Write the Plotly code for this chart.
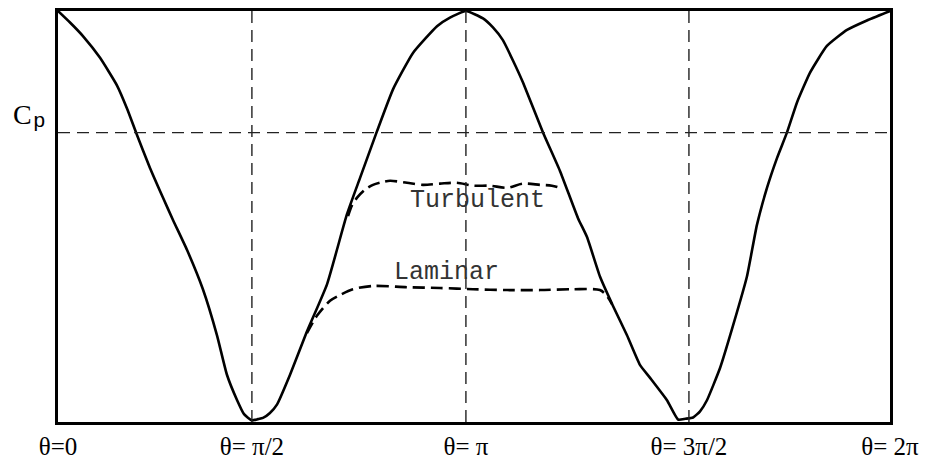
import plotly.graph_objects as go

# pressure coefficient around a cylinder, angle in degrees, Cp normalised 0..1
theta_main = [0, 5.2, 10.8, 18.2, 25.5, 29.9, 33.8, 39.8, 45.4, 49.8, 55.8, 62.7, 68.8, 73.1,
              77.5, 80.5, 83.9, 86.5, 88.7, 91.7, 94.8, 100.4, 107.7, 116.4, 125.0, 130.7,
              138.0, 145.0, 153.6, 164.0, 169.6, 176.5, 183.9, 188.2, 192.5, 196.9, 201.2,
              209.9, 217.2, 225.0, 228.9, 234.5, 240.1, 246.2, 251.8, 256.1, 263.5, 268.3,
              271.5, 274.8, 277.8, 280.8, 286.5, 292.1, 298.1, 302.4, 306.8, 311.1, 315.4,
              319.8, 325.4, 332.7, 341.4, 350.0, 360.0]
cp_main = [1.0, 0.972, 0.939, 0.886, 0.819, 0.762, 0.704, 0.618, 0.546, 0.491, 0.419, 0.323,
           0.211, 0.115, 0.053, 0.019, 0.004, 0.007, 0.010, 0.022, 0.043, 0.115, 0.220, 0.335,
           0.505, 0.594, 0.707, 0.810, 0.898, 0.963, 0.984, 1.0, 0.982, 0.960, 0.929, 0.879,
           0.826, 0.704, 0.611, 0.496, 0.450, 0.354, 0.283, 0.211, 0.139, 0.108, 0.053, 0.006,
           0.008, 0.011, 0.026, 0.053, 0.132, 0.235, 0.354, 0.479, 0.570, 0.642, 0.704, 0.778,
           0.850, 0.915, 0.954, 0.977, 1.0]

theta_laminar = [107.7, 112.1, 117.7, 122.0, 127.6, 136.3, 151.0, 165.3, 179.6, 194.3, 208.6,
                 222.8, 234.5, 237.5, 239.7]
cp_laminar = [0.216, 0.259, 0.295, 0.309, 0.323, 0.331, 0.328, 0.326, 0.323, 0.321, 0.321,
              0.323, 0.321, 0.307, 0.287]

theta_turbulent = [125.5, 127.2, 129.4, 132.8, 136.3, 140.6, 143.7, 151.0, 157.9, 165.3, 172.6,
                   179.6, 186.9, 194.3, 201.2, 208.6, 213.7, 218.1]
cp_turbulent = [0.501, 0.527, 0.546, 0.565, 0.577, 0.584, 0.587, 0.582, 0.577, 0.580, 0.582,
                0.575, 0.575, 0.570, 0.580, 0.577, 0.575, 0.568]

tick_vals = [0, 83.9, 176.5, 273.0, 360]
tick_text = ["θ=0", "θ= π/2", "θ= π", "θ= 3π/2", "θ= 2π"]
cp_ref = 0.704

fig = go.Figure()

# main solid curve
fig.add_trace(go.Scatter(
    x=theta_main, y=cp_main, mode="lines",
    line=dict(color="black", width=2.6, shape="spline", smoothing=0.45),
    cliponaxis=False,
    showlegend=False,
))

# boundary layer separation branches
fig.add_trace(go.Scatter(
    x=theta_turbulent, y=cp_turbulent, mode="lines",
    line=dict(color="black", width=2.6, dash="12px,6px", shape="spline", smoothing=0.8),
    showlegend=False,
))
fig.add_trace(go.Scatter(
    x=theta_laminar, y=cp_laminar, mode="lines",
    line=dict(color="black", width=2.6, dash="12px,6px", shape="spline", smoothing=0.8),
    showlegend=False,
))

# reference dashed lines
for tv in tick_vals[1:4]:
    fig.add_vline(x=tv, line=dict(color="#222", width=1.4, dash="12px,7px"))
fig.add_hline(y=cp_ref, line=dict(color="#222", width=1.4, dash="12px,7px"))

fig.add_annotation(x=181.3, y=0.539, text="Turbulent", showarrow=False,
                   font=dict(family="Liberation Mono", size=25, color="#333"))
fig.add_annotation(x=168.3, y=0.364, text="Laminar", showarrow=False,
                   font=dict(family="Liberation Mono", size=25, color="#333"))

# C_p label on the left
fig.add_annotation(xref="paper", yref="paper", x=-0.043, y=cp_ref + 0.043, text="C",
                   xanchor="center", yanchor="middle", showarrow=False,
                   font=dict(family="Liberation Serif", size=28, color="black"))
fig.add_annotation(xref="paper", yref="paper", x=-0.022, y=cp_ref + 0.026, text="p",
                   xanchor="center", yanchor="middle", showarrow=False,
                   font=dict(family="Liberation Mono", size=21, color="black"))

# page body has an 8px margin, so the figure is a bit smaller than the window
fig.update_layout(
    width=922, height=452,
    margin=dict(l=50, r=40, t=0, b=35),
    plot_bgcolor="white", paper_bgcolor="white",
    xaxis=dict(range=[0, 360], tickvals=tick_vals, ticktext=tick_text, showgrid=False,
               zeroline=False, showline=True, mirror=True, linecolor="black", linewidth=3,
               ticks="", tickfont=dict(family="Liberation Serif", size=25, color="black")),
    yaxis=dict(range=[0, 1], showticklabels=False, showgrid=False, zeroline=False,
               showline=True, mirror=True, linecolor="black", linewidth=3, ticks=""),
)

fig.write_html("out.html")
